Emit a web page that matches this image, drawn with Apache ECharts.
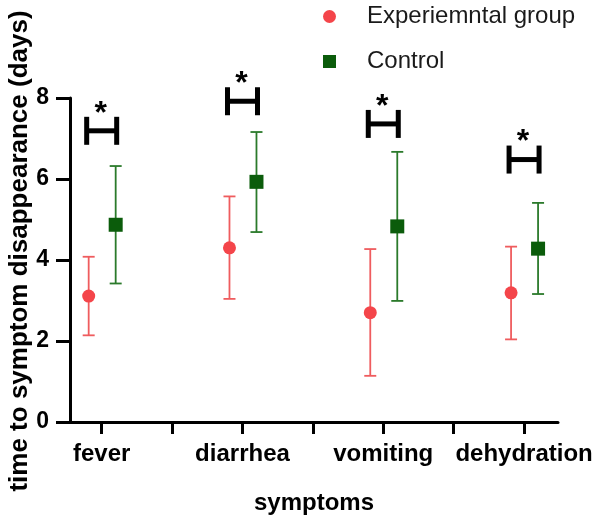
<!DOCTYPE html>
<html>
<head>
<meta charset="utf-8">
<script src="https://cdn.jsdelivr.net/npm/echarts@6/dist/echarts.min.js"></script>
<style>html,body{margin:0;padding:0;background:#fff;}#c{width:600px;height:522px;}</style>
</head>
<body>
<div id="c"></div>
<script>
// ---- data ----
var categories = ['fever', 'diarrhea', 'vomiting', 'dehydration'];
var expMean  = [3.11, 4.30, 2.70, 3.19];
var expLow   = [2.14, 3.04, 1.14, 2.04];
var expHigh  = [4.08, 5.57, 4.27, 4.33];
var ctrlMean = [4.87, 5.93, 4.83, 4.28];
var ctrlLow  = [3.42, 4.69, 2.99, 3.16];
var ctrlHigh = [6.32, 7.16, 6.67, 5.41];
var sigY     = [7.19, 7.92, 7.36, 6.48];
var sigLabel = ['*', '*', '*', '*'];
var yTicks   = [0, 2, 4, 6, 8];
var seriesNames = ['Experiemntal group', 'Control'];

// ---- styles ----
var FONT = 'Liberation Sans, Arial, sans-serif';
var RED = '#f4454a', RED_BAR = '#ef5c5e';
var GREEN = '#0b5c0b', GREEN_BAR = '#2b7a2b';
var EXP_OFF = -13, CTRL_OFF = 14;

function pos(i) { return i + 1; }

function errSeries(low, high, off, color) {
  return {
    type: 'custom',
    silent: true,
    z: 2,
    data: low.map(function (v, i) { return [pos(i), v, high[i]]; }),
    renderItem: function (params, api) {
      var lo = api.coord([api.value(0), api.value(1)]);
      var hi = api.coord([api.value(0), api.value(2)]);
      var x = lo[0] + off, cw = 6;
      var st = { stroke: color, lineWidth: 1.8 };
      return {
        type: 'group',
        children: [
          { type: 'line', shape: { x1: x, y1: lo[1], x2: x, y2: hi[1] }, style: st },
          { type: 'line', shape: { x1: x - cw, y1: lo[1], x2: x + cw, y2: lo[1] }, style: st },
          { type: 'line', shape: { x1: x - cw, y1: hi[1], x2: x + cw, y2: hi[1] }, style: st }
        ]
      };
    }
  };
}

var chart = echarts.init(document.getElementById('c'), null, { renderer: 'canvas' });
chart.setOption({
  animation: false,
  backgroundColor: '#fff',
  legend: {
    orient: 'vertical',
    left: 323,
    top: 4,
    padding: 0,
    itemWidth: 13,
    itemHeight: 13,
    itemGap: 20,
    data: [{ name: seriesNames[0], icon: 'circle' }, { name: seriesNames[1], icon: 'rect' }],
    textStyle: { fontFamily: FONT, fontSize: 24, color: '#1a1a1a', lineHeight: 25, padding: [0, 0, 0, 26] }
  },
  grid: { left: 70, right: 42, top: 98, bottom: 100, containLabel: false, outerBoundsMode: 'none' },
  xAxis: {
    type: 'value',
    min: 0.775,
    max: 4.241,
    name: 'symptoms',
    nameLocation: 'middle',
    nameGap: 69,
    nameMoveOverlap: false,
    nameTextStyle: { fontFamily: FONT, fontSize: 24, fontWeight: 'bold', color: '#000' },
    splitLine: { show: false },
    axisLine: { show: true, lineStyle: { color: '#000', width: 3 } },
    axisTick: { show: true, length: 12, lineStyle: { color: '#000', width: 3 },
                customValues: [1, 1.5, 2, 2.5, 3, 3.5, 4] },
    axisLabel: {
      customValues: [1, 2, 3, 4],
      formatter: function (v) { return categories[Math.round(v) - 1] || ''; },
      fontFamily: FONT, fontSize: 24, fontWeight: 'bold', color: '#000', margin: 20
    }
  },
  yAxis: {
    type: 'value',
    min: 0,
    max: 8,
    interval: 2,
    name: 'time to symptom disappearance (days)',
    nameLocation: 'middle',
    nameGap: 37,
    nameMoveOverlap: false,
    nameTextStyle: { fontFamily: FONT, fontSize: 26, fontWeight: 'bold', color: '#000', padding: [0, 0, 0, 18] },
    splitLine: { show: false },
    axisLine: { show: true, lineStyle: { color: '#000', width: 3 } },
    axisTick: { show: true, length: 14, lineStyle: { color: '#000', width: 3 } },
    axisLabel: {
      formatter: function (v) { return yTicks.indexOf(v) >= 0 ? String(v) : ''; },
      fontFamily: FONT, fontSize: 23, fontWeight: 'bold', color: '#000', margin: 21
    }
  },
  series: [
    errSeries(expLow, expHigh, EXP_OFF, RED_BAR),
    errSeries(ctrlLow, ctrlHigh, CTRL_OFF, GREEN_BAR),
    {
      name: seriesNames[0],
      type: 'scatter',
      z: 5,
      symbol: 'circle',
      symbolSize: 13,
      symbolOffset: [EXP_OFF, 0],
      itemStyle: { color: RED, opacity: 1 },
      data: expMean.map(function (v, i) { return [pos(i), v]; })
    },
    {
      name: seriesNames[1],
      type: 'scatter',
      z: 5,
      symbol: 'rect',
      symbolSize: 14,
      symbolOffset: [CTRL_OFF, 0],
      itemStyle: { color: GREEN, opacity: 1 },
      data: ctrlMean.map(function (v, i) { return [pos(i), v]; })
    },
    {
      type: 'custom',
      silent: true,
      z: 6,
      data: sigY.map(function (v, i) { return [pos(i), v, i]; }),
      renderItem: function (params, api) {
        var c = api.coord([api.value(0), api.value(1)]);
        var x = c[0], y = c[1], hw = 15, hh = 14;
        var st = { stroke: '#000', lineWidth: 5 };
        return {
          type: 'group',
          children: [
            { type: 'line', shape: { x1: x - hw, y1: y - hh, x2: x - hw, y2: y + hh }, style: st },
            { type: 'line', shape: { x1: x + hw, y1: y - hh, x2: x + hw, y2: y + hh }, style: st },
            { type: 'line', shape: { x1: x - hw, y1: y, x2: x + hw, y2: y }, style: st },
            { type: 'text', style: { text: sigLabel[api.value(2)], x: x - 1, y: y - hh + 13,
              align: 'center', verticalAlign: 'bottom', fill: '#000',
              font: 'bold 32px Liberation Sans, Arial, sans-serif' } }
          ]
        };
      }
    }
  ]
});
</script>
</body>
</html>
